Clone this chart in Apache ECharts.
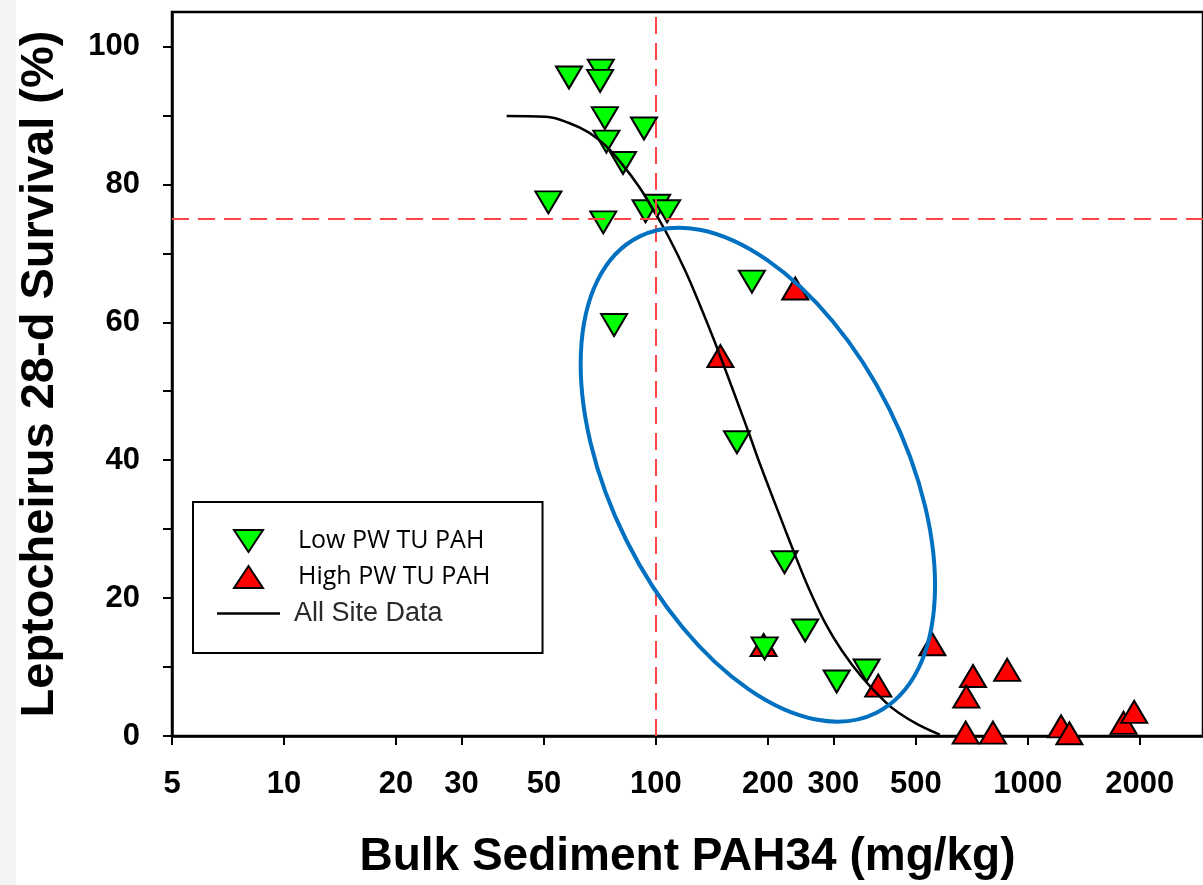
<!DOCTYPE html>
<html>
<head>
<meta charset="utf-8">
<script src="https://cdn.jsdelivr.net/npm/echarts@6/dist/echarts.min.js"></script>
<style>
  html, body { margin: 0; padding: 0; background: #fff; }
  #chart { width: 1203px; height: 885px; }
</style>
</head>
<body>
<div id="chart"></div>
<script>
// tick labels
const xTicks = [5, 10, 20, 30, 50, 100, 200, 300, 500, 1000, 2000];
const yTicks = [0, 20, 40, 60, 80, 100];
const yMinorTicks = [0, 10, 20, 30, 40, 50, 60, 70, 80, 90, 100];

// Low PW TU PAH (green, down triangles) : [PAH34 mg/kg, survival %]
const lowPw = [
  [58.4, 95.5], [71.1, 96.5], [70.8, 95.0], [72.9, 89.6], [92.9, 88.1],
  [73.6, 86.2], [81.6, 83.1], [51.4, 77.4], [72.2, 74.5], [93.8, 76.1],
  [100.8, 76.9], [107.2, 76.1], [77.2, 59.6], [181.2, 65.9], [165.2, 42.6],
  [221.8, 25.2], [252.0, 15.3], [196.0, 12.7], [306.3, 7.9], [368.6, 9.5]
];

// High PW TU PAH (red, up triangles)
const highPw = [
  [236.9, 64.9], [149.1, 55.1], [194.8, 13.2], [396.2, 7.3], [553.9, 13.3],
  [712.1, 8.7], [683.3, 5.7], [880.0, 9.6], [680.8, 0.5], [805.9, 0.5],
  [1228.6, 1.4], [1293.5, 0.4], [1808.8, 1.9], [1932.2, 3.5]
];

// fitted curve, All Site Data
const fitCurve = [
  [39.7, 89.9], [50.6, 89.8], [58.4, 88.9], [66.1, 87.5], [73.3, 85.6],
  [81.2, 82.9], [90.0, 79.7], [97.7, 76.6], [108.4, 72.3], [120.1, 67.4],
  [130.4, 62.9], [146.0, 56.3], [176.8, 44.3], [190.9, 39.3], [222.7, 29.9],
  [236.9, 26.2], [257.2, 21.5], [285.1, 16.4], [316.1, 12.4], [357.3, 8.6],
  [413.0, 5.0], [448.3, 3.4], [507.2, 1.65], [579.9, 0.2]
];

// reference thresholds
const refX = 100;
const refY = 75;

const chart = echarts.init(document.getElementById('chart'));

const tickFont = { fontFamily: 'Liberation Sans', fontWeight: 'bold', fontSize: 31, color: '#000' };
const legendFont = { fontFamily: 'Open Sans', fontSize: 25, color: '#000', padding: [0, 0, 0, 12] };

// legend icons: the leading M points pad the box to itemWidth x itemHeight (65 x 24)
const iconDown = 'path://M0,0 M65,24 M18,1 L47,1 L32.5,23 Z';
const iconUp = 'path://M0,0 M65,24 M18,23 L47,23 L32.5,1 Z';
const iconLine = 'path://M0,0 M65,24 M1,10.8 L64,10.8 L64,13.2 L1,13.2 Z';

chart.setOption({
  animation: false,
  backgroundColor: '#fff',
  grid: {
    left: 172, top: 12, right: -3, bottom: 148,
    show: true, borderColor: '#000', borderWidth: 2.5
  },
  xAxis: {
    type: 'log', logBase: 10, min: 5, max: 2958,
    name: 'Bulk Sediment PAH34 (mg/kg)',
    nameLocation: 'middle', nameGap: 98,
    nameTextStyle: { fontFamily: 'Liberation Sans', fontWeight: 'bold', fontSize: 46, color: '#000' },
    axisLine: { lineStyle: { color: '#000', width: 2.5 } },
    axisTick: { show: true, length: 9, lineStyle: { color: '#000', width: 2 }, customValues: xTicks },
    axisLabel: Object.assign({ margin: 33, customValues: xTicks, formatter: v => String(v) }, tickFont),
    splitLine: { show: false },
    minorTick: { show: false }
  },
  yAxis: {
    type: 'value', min: 0, max: 105,
    name: 'Leptocheirus 28-d Survival (%)',
    nameLocation: 'middle', nameGap: 108,
    nameTextStyle: { fontFamily: 'Liberation Sans', fontWeight: 'bold', fontSize: 47, color: '#000' },
    axisLine: { show: true, lineStyle: { color: '#000', width: 2.5 } },
    axisTick: { show: true, length: 9, lineStyle: { color: '#000', width: 2 }, customValues: yMinorTicks },
    axisLabel: Object.assign({ margin: 32, customValues: yTicks }, tickFont),
    splitLine: { show: false }
  },
  legend: {
    left: 193, top: 502,
    orient: 'vertical',
    itemWidth: 65, itemHeight: 24, itemGap: 10,
    padding: [26, 52, 26, 22],
    borderColor: '#000', borderWidth: 2,
    backgroundColor: '#fff',
    data: [
      { name: 'Low PW TU PAH', icon: iconDown, symbolRotate: 0, textStyle: legendFont },
      { name: 'High PW TU PAH', icon: iconUp, symbolRotate: 0, textStyle: legendFont },
      {
        name: 'All Site Data', icon: iconLine,
        itemStyle: { color: '#000', borderWidth: 0 },
        textStyle: { fontFamily: 'Liberation Sans', fontSize: 27, color: '#2a2a2a', padding: [0, 0, 0, 8] }
      }
    ]
  },
  series: [
    {
      name: 'High PW TU PAH',
      type: 'scatter',
      data: highPw,
      symbol: 'triangle',
      symbolSize: [26, 22],
      itemStyle: { color: '#ff0000', borderColor: '#000', borderWidth: 2, opacity: 1 },
      z: 2
    },
    {
      name: 'Low PW TU PAH',
      type: 'scatter',
      data: lowPw,
      symbol: 'triangle',
      symbolRotate: 180,
      symbolSize: [26, 22],
      itemStyle: { color: '#00ff00', borderColor: '#000', borderWidth: 2, opacity: 1 },
      z: 2
    },
    {
      name: 'All Site Data',
      type: 'line',
      data: fitCurve,
      smooth: 0.4,
      symbol: 'none',
      itemStyle: { color: '#000' },
      lineStyle: { color: '#000', width: 2.5 },
      z: 3,
      markLine: {
        silent: true,
        symbol: 'none',
        label: { show: false },
        lineStyle: { color: '#ff4545', width: 2, type: [17, 9] },
        data: [{ xAxis: refX }, { yAxis: refY }]
      }
    }
  ]
});

// blue annotation ellipse around the transition zone
const c = chart.convertToPixel({ gridIndex: 0 }, [188, 37.9]);
chart.setOption({
  graphic: [
    {
      type: 'rect', left: 0, top: 0, z: -1,
      shape: { width: 16, height: 885 },
      style: { fill: '#f3f3f3' }
    },
    {
      type: 'ellipse',
      x: c[0], y: c[1],
      rotation: -63.5 * Math.PI / 180,
      shape: { cx: 0, cy: 0, rx: 266, ry: 147 },
      style: { fill: 'none', stroke: '#0070c0', lineWidth: 4 },
      z: 100
    }
  ]
});
</script>
</body>
</html>
